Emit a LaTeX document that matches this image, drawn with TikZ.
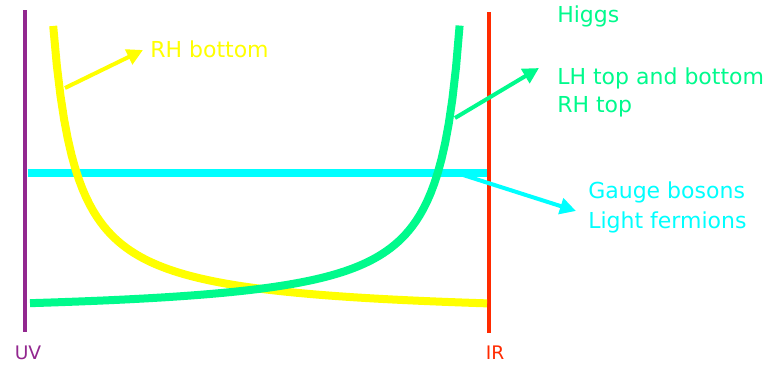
\documentclass[tikz,border=0pt]{standalone}
\usepackage{fontspec}
\setmainfont{DejaVu Sans}
\usetikzlibrary{arrows.meta}

\definecolor{uvpurple}{RGB}{146,39,143}
\definecolor{irred}{RGB}{255,42,0}
\definecolor{higgsgreen}{RGB}{0,250,140}
\definecolor{gaugecyan}{RGB}{0,255,255}
\definecolor{bottomyellow}{RGB}{255,255,0}

\tikzset{
  brane/.style={line width=3.5pt},
  profile/.style={line width=6pt},
  pointer/.style={line width=3pt, -{Triangle[length=12pt,width=12pt]}},
  lbl/.style={font=\fontsize{16.5}{20}\selectfont, inner sep=0pt, anchor=west},
  endlbl/.style={font=\fontsize{14}{16}\selectfont, inner sep=0pt}
}

\begin{document}
\begin{tikzpicture}[x=0.75pt, y=-0.75pt]
	\useasboundingbox (0,0) rectangle (767,364);
	
	% branes
	\draw[brane, uvpurple] (25,10) -- (25,332);
	\draw[brane, irred, line width=3pt] (489,12) -- (489,333);
	\node[endlbl, uvpurple] (uv) at (28,353) {UV};
	\node[endlbl, irred] (ir) at (495,353) {IR};
	
	% profiles
	\draw[profile, gaugecyan] (28,173) -- (487,173);
	\draw[profile, bottomyellow] plot[domain=53.2:487, samples=120] (\x, {318.2-6780/(\x-30)});
	\draw[profile, higgsgreen] plot[domain=30:459.6, samples=120] (\x, {317-6237/(481-\x)});
	
	% labels
	\node[lbl, bottomyellow] (rhb) at (150,49) {RH bottom};
	\node[lbl, higgsgreen] (higgs) at (557,16) {Higgs};
	\node[lbl, higgsgreen] (lht) at (557,78) {LH top and bottom};
	\node[lbl, higgsgreen] (rht) at (557,107) {RH top};
	\node[lbl, gaugecyan] (gauge) at (588,192) {Gauge bosons};
	\node[lbl, gaugecyan] (light) at (588,222) {Light fermions};
	
	% arrows
	\coordinate (yfrom) at (65,88);
	\coordinate (yto) at (143,50);
	\coordinate (gfrom) at (455,118);
	\coordinate (gto) at (539,68);
	\coordinate (cfrom) at (460,174);
	\coordinate (cto) at (576,211);
	\draw[pointer, bottomyellow] (yfrom) -- (yto);
	\draw[pointer, higgsgreen] (gfrom) -- (gto);
	\draw[pointer, gaugecyan] (cfrom) -- (cto);
\end{tikzpicture}
\end{document}
